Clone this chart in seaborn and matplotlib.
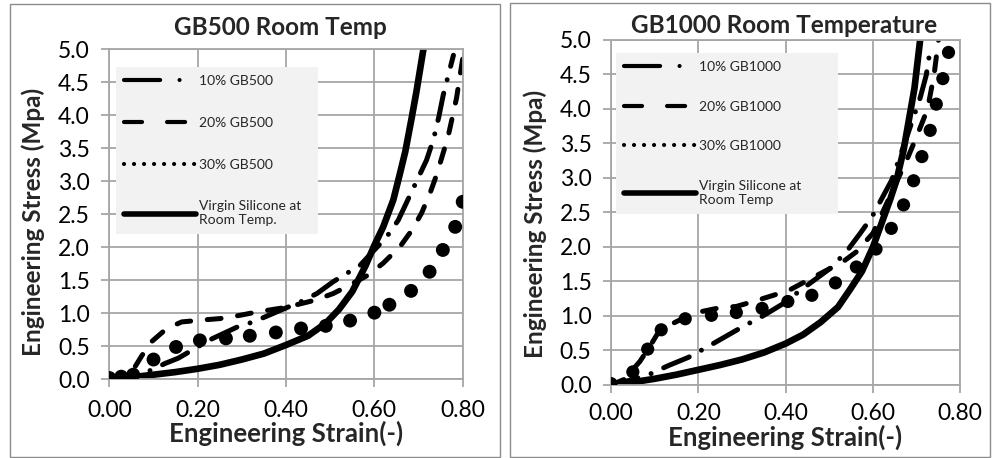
import matplotlib
matplotlib.use("Agg")
import matplotlib.pyplot as plt
from matplotlib.lines import Line2D
from matplotlib.patches import Rectangle
import seaborn as sns

# ---------------- data ----------------
x_ticks = [0.0, 0.2, 0.4, 0.6, 0.8]
y_ticks = [0.0, 0.5, 1.0, 1.5, 2.0, 2.5, 3.0, 3.5, 4.0, 4.5, 5.0]

# GB500 panel
gb500_10_strain = [0.0, 0.05, 0.096, 0.126, 0.156, 0.228, 0.292, 0.326, 0.417, 0.435, 0.47, 0.507,
                   0.568, 0.628, 0.654, 0.718, 0.734, 0.746, 0.756, 0.779]
gb500_10_stress = [0.0, 0.05, 0.14, 0.24, 0.32, 0.60, 0.80, 0.87, 1.13, 1.18, 1.30, 1.48,
                   1.73, 2.16, 2.41, 3.32, 3.64, 3.98, 4.31, 4.91]

gb500_20_strain = [0.0, 0.05, 0.07, 0.092, 0.13, 0.164, 0.213, 0.25, 0.296, 0.334, 0.40, 0.466,
                   0.507, 0.55, 0.586, 0.62, 0.658, 0.685, 0.707, 0.726, 0.741, 0.767, 0.786, 0.80]
gb500_20_stress = [0.0, 0.10, 0.32, 0.55, 0.77, 0.87, 0.90, 0.92, 0.97, 1.02, 1.09, 1.20,
                   1.30, 1.45, 1.58, 1.76, 2.01, 2.26, 2.52, 2.82, 3.10, 3.68, 4.26, 4.86]

gb500_30_strain = [0.0, 0.027, 0.054, 0.10, 0.151, 0.205, 0.264, 0.318, 0.377, 0.434, 0.49,
                   0.545, 0.60, 0.634, 0.683, 0.725, 0.755, 0.783, 0.80]
gb500_30_stress = [0.02, 0.04, 0.07, 0.30, 0.49, 0.59, 0.62, 0.66, 0.71, 0.77, 0.81,
                   0.89, 1.01, 1.13, 1.34, 1.63, 1.96, 2.31, 2.69]

virgin_a_strain = [0.0, 0.05, 0.10, 0.15, 0.20, 0.25, 0.30, 0.35, 0.40, 0.45, 0.49, 0.52, 0.55,
                   0.58, 0.60, 0.62, 0.643, 0.658, 0.67, 0.685, 0.695, 0.711]
virgin_a_stress = [0.0, 0.03, 0.07, 0.11, 0.16, 0.22, 0.30, 0.39, 0.52, 0.66, 0.85, 1.06, 1.33,
                   1.72, 2.03, 2.31, 2.72, 3.12, 3.45, 3.98, 4.35, 5.00]

# GB1000 panel
gb1000_10_strain = [0.0, 0.05, 0.09, 0.131, 0.177, 0.223, 0.303, 0.345, 0.40, 0.429, 0.502, 0.539,
                    0.571, 0.598, 0.643, 0.675, 0.708, 0.722, 0.732]
gb1000_10_stress = [0.0, 0.08, 0.16, 0.28, 0.40, 0.56, 0.85, 0.99, 1.20, 1.35, 1.69, 1.93,
                    2.20, 2.44, 2.97, 3.55, 4.16, 4.49, 4.90]

gb1000_20_strain = [0.0, 0.03, 0.066, 0.089, 0.112, 0.173, 0.204, 0.242, 0.288, 0.326, 0.372, 0.41,
                    0.46, 0.532, 0.562, 0.60, 0.64, 0.68, 0.70, 0.725, 0.74, 0.75]
gb1000_20_stress = [0.0, 0.08, 0.34, 0.56, 0.80, 0.99, 1.06, 1.11, 1.14, 1.21, 1.30, 1.38,
                    1.55, 1.79, 1.93, 2.20, 2.75, 3.30, 3.60, 4.00, 4.50, 5.00]

gb1000_30_strain = [0.0, 0.05, 0.084, 0.115, 0.17, 0.23, 0.287, 0.346, 0.405, 0.46, 0.514, 0.562,
                    0.607, 0.642, 0.67, 0.693, 0.712, 0.731, 0.745, 0.76, 0.773]
gb1000_30_stress = [0.02, 0.19, 0.52, 0.80, 0.96, 1.01, 1.05, 1.11, 1.21, 1.30, 1.48, 1.71,
                    1.97, 2.27, 2.61, 2.96, 3.31, 3.69, 4.07, 4.44, 4.82]

virgin_b_strain = [0.0, 0.05, 0.10, 0.15, 0.20, 0.25, 0.30, 0.35, 0.40, 0.44, 0.48, 0.52, 0.547,
                   0.575, 0.60, 0.62, 0.64, 0.654, 0.67, 0.685, 0.695, 0.708]
virgin_b_stress = [0.0, 0.04, 0.09, 0.15, 0.22, 0.29, 0.37, 0.47, 0.60, 0.73, 0.91, 1.13, 1.38,
                   1.65, 2.00, 2.35, 2.70, 2.97, 3.40, 3.94, 4.30, 5.00]

labels_a = ["10% GB500", "20% GB500", "30% GB500", "Virgin Silicone at\nRoom Temp."]
labels_b = ["10% GB1000", "20% GB1000", "30% GB1000", "Virgin Silicone at\nRoom Temp"]

# ---------------- styling ----------------
sns.set_style("white")
plt.rcParams["font.family"] = ["Lato", "DejaVu Sans"]
plt.rcParams["lines.scale_dashes"] = False

DASHDOT = (0, (20, 10, 0.01, 10))
DASHED = (0, (10, 12))
GRID = "#a6a6a6"

fig = plt.figure(figsize=(9.94, 4.58), dpi=100)
fig.patch.set_facecolor("white")

# chart-area frames
for (x0, y0, w, h) in [(10 / 994, 1 / 458, 490 / 994, 453 / 458),
                       (510 / 994, 1 / 458, 480 / 994, 454 / 458)]:
    fig.patches.append(Rectangle((x0, y0), w, h, transform=fig.transFigure,
                                 fill=False, edgecolor="#8c8c8c", lw=1.0))

ax_a = fig.add_axes([0.110, 0.1718, 0.3555, 0.7205])
ax_b = fig.add_axes([0.6147, 0.1594, 0.3514, 0.7533])


def draw_panel(ax, s10, t10, s20, t20, s30, t30, sv, tv, labels, dot_size, title,
               title_xy, ylabel_xy, xlabel_xy, xpad, leg_box, leg_spacing):
    sns.lineplot(x=s10, y=t10, ax=ax, color="black", lw=3.6, linestyle=DASHDOT,
                 sort=False, estimator=None, dash_capstyle="round")
    sns.lineplot(x=s20, y=t20, ax=ax, color="black", lw=3.6, linestyle=DASHED,
                 sort=False, estimator=None, dash_capstyle="round")
    sns.scatterplot(x=s30, y=t30, ax=ax, color="black", s=dot_size, edgecolor="none",
                    zorder=3)
    sns.lineplot(x=sv, y=tv, ax=ax, color="black", lw=4.8, sort=False, estimator=None,
                 solid_capstyle="round", solid_joinstyle="round")

    ax.set_xlim(0, 0.8)
    ax.set_ylim(0, 5.0)
    ax.set_xticks(x_ticks)
    ax.set_yticks(y_ticks)
    ax.set_xticklabels([f"{v:.2f}" for v in x_ticks])
    ax.set_yticklabels([f"{v:.1f}" for v in y_ticks])
    ax.grid(True, color=GRID, lw=1.3)
    ax.set_axisbelow(True)
    for sp in ax.spines.values():
        sp.set_color(GRID)
        sp.set_linewidth(1.3)
    ax.tick_params(axis="both", which="major", length=6, width=1.3, color=GRID,
                   labelsize=16.5, labelcolor="black", direction="out")
    ax.tick_params(axis="x", pad=xpad)
    ax.tick_params(axis="y", pad=8)
    ax.tick_params(left=True, bottom=True)

    ax.set_title(title, fontsize=17.5, fontweight="bold", x=title_xy[0], y=title_xy[1],
                 va="center", pad=0)
    ax.set_xlabel("Engineering Strain(-)", fontsize=18.5, fontweight="bold")
    ax.set_ylabel("Engineering Stress (Mpa)", fontsize=17.5, fontweight="bold")
    ax.xaxis.set_label_coords(*xlabel_xy)
    ax.yaxis.set_label_coords(*ylabel_xy)
    ax.xaxis.label.set_va("center")
    ax.yaxis.label.set_va("center")

    handles = [
        Line2D([], [], color="black", lw=3.0, linestyle=(0, (26, 14, 0.01, 30)),
               dash_capstyle="round"),
        Line2D([], [], color="black", lw=3.0, linestyle=(0, (13, 18)),
               dash_capstyle="round"),
        Line2D([], [], color="black", lw=3.0, linestyle=(0, (0.01, 7.2)),
               dash_capstyle="round"),
        Line2D([], [], color="black", lw=4.0, solid_capstyle="round"),
    ]
    leg = ax.legend(handles, labels, loc="upper left", bbox_to_anchor=leg_box,
                    mode="expand", fontsize=10, frameon=True, facecolor="#f2f2f2",
                    edgecolor="none", framealpha=1, fancybox=False, handlelength=5.2,
                    handletextpad=0.2, labelspacing=leg_spacing, borderpad=0.55,
                    borderaxespad=0)
    leg.get_frame().set_linewidth(0)


draw_panel(ax_a, gb500_10_strain, gb500_10_stress, gb500_20_strain, gb500_20_stress,
           gb500_30_strain, gb500_30_stress, virgin_a_strain, virgin_a_stress, labels_a,
           100, "GB500 Room Temp", (0.483, 1.067), (-0.216, 0.478), (0.5, -0.165), 9,
           (0.019, 0.446, 0.572, 0.5), 2.15)
draw_panel(ax_b, gb1000_10_strain, gb1000_10_stress, gb1000_20_strain, gb1000_20_stress,
           gb1000_30_strain, gb1000_30_stress, virgin_b_strain, virgin_b_stress, labels_b,
           90, "GB1000 Room Temperature", (0.495, 1.043), (-0.218, 0.467), (0.498, -0.152), 7,
           (0.014, 0.462, 0.636, 0.5), 2.0)

fig.savefig("out.png", dpi=100, facecolor="white")
